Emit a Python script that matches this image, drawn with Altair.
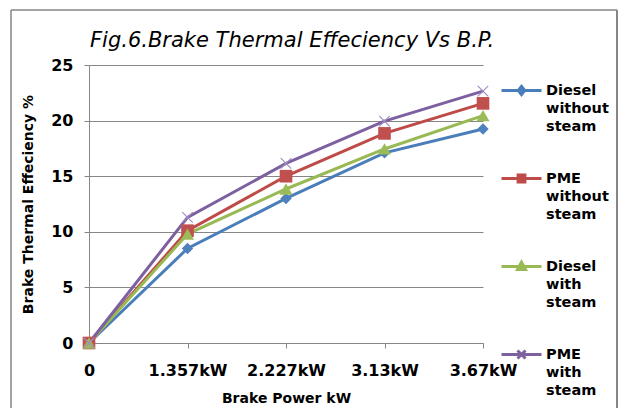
import altair as alt
import pandas as pd

bp_labels = ["0", "1.357kW", "2.227kW", "3.13kW", "3.67kW"]
series_names = ["Diesel without steam", "PME without steam", "Diesel with steam", "PME with steam"]
diesel_without = [0, 8.5, 13.0, 17.1, 19.25]
pme_without = [0, 10.1, 15.0, 18.85, 21.55]
diesel_with = [0, 9.8, 13.85, 17.45, 20.45]
pme_with = [0, 11.3, 16.15, 19.95, 22.65]

line_colors = ["#4A7EBB", "#BE4B48", "#98B954", "#7D60A0"]
marker_colors = ["#4F81BD", "#C0504D", "#9BBB59", "#A18DC0"]
marker_shapes = ["diamond", "square", "triangle-up", "M-1,-1L1,1M-1,1L1,-1"]
marker_sizes = [130, 160, 170, 110]
legend_paths = [
    "M-1,0H1M-0.16,0L0,-0.2L0.16,0L0,0.2ZM-0.07,0L0,-0.09L0.07,0L0,0.09Z",
    "M-1,0H1M-0.17,-0.17H0.17V0.17H-0.17ZM-0.08,-0.08H0.08V0.08H-0.08Z",
    "M-1,0H1M-0.2,0.15L0,-0.22L0.2,0.15ZM-0.08,0.08L0,-0.06L0.08,0.08Z",
    "M-1,0H1M-0.2,-0.2L0.2,0.2M-0.2,0.2L0.2,-0.2",
]

rows = []
for name, vals in zip(series_names, [diesel_without, pme_without, diesel_with, pme_with]):
    for lab, v in zip(bp_labels, vals):
        rows.append({"bp": lab, "series": name, "eff": v})
df = pd.DataFrame(rows)

FONT = "DejaVu Sans"
GRAY = "#868686"

x_enc = alt.X("bp:N", sort=bp_labels, scale=alt.Scale(type="point", padding=0),
              axis=alt.Axis(title="Brake Power kW", labelAngle=0, labelPadding=14,
                            titlePadding=13, tickSize=5, labelFontSize=16,
                            titleFontSize=14))
y_enc = alt.Y("eff:Q", scale=alt.Scale(domain=[0, 25]),
              axis=alt.Axis(title="Brake Thermal Effeciency %", values=[0, 5, 10, 15, 20, 25],
                            labelPadding=11, titlePadding=15, tickSize=5, grid=True,
                            labelFontSize=16, titleFontSize=14))

base = alt.Chart(df)

series_layers = []
for name, lc in zip(series_names, line_colors):
    sub = base.transform_filter(alt.datum.series == name)
    series_layers.append(sub.mark_line(strokeWidth=3, color=lc).encode(x=x_enc, y=y_enc))
for name, shp, col, sz in zip(series_names, marker_shapes, marker_colors, marker_sizes):
    sub = base.transform_filter(alt.datum.series == name)
    if shp.startswith("M"):
        m = sub.mark_point(shape=shp, filled=False, size=sz, stroke=col, strokeWidth=1.2, opacity=1)
    else:
        m = sub.mark_point(shape=shp, filled=True, size=sz, fill=col, opacity=1)
    series_layers.append(m.encode(x=x_enc, y=y_enc))

legend_layer = base.mark_point(filled=False, strokeWidth=3, opacity=0).encode(
    x=x_enc, y=y_enc,
    color=alt.Color("series:N", scale=alt.Scale(domain=series_names, range=line_colors),
                    legend=alt.Legend(title=None, orient="none", legendX=411, legendY=4,
                                      direction="vertical", symbolSize=1600, symbolOpacity=1,
                                      symbolStrokeWidth=3, rowPadding=24, padding=0,
                                      labelFont=FONT, labelFontSize=14.5, labelFontWeight="bold",
                                      labelColor="black", labelOffset=3, labelLimit=200,
                                      labelExpr="split(datum.label, ' ')")),
    shape=alt.Shape("series:N", scale=alt.Scale(domain=series_names, range=legend_paths)),
)

frame_data = alt.Data(values=[{"a": 1}])
frame_left = alt.Chart(frame_data).mark_rule(color=GRAY, strokeWidth=1.5).encode(
    x=alt.value(-78), y=alt.value(-55), y2=alt.value(343))
frame_right = alt.Chart(frame_data).mark_rule(color=GRAY, strokeWidth=2).encode(
    x=alt.value(528), y=alt.value(-55), y2=alt.value(343))
frame_top = alt.Chart(frame_data).mark_rule(color=GRAY, strokeWidth=1.5).encode(
    x=alt.value(-78), x2=alt.value(528), y=alt.value(-55))

chart = alt.layer(
    frame_left, frame_right, frame_top, *series_layers, legend_layer
).properties(
    width=394, height=278,
    autosize=alt.AutoSizeParams(type="none"),
    padding={"left": 81, "top": 57, "right": 135, "bottom": 65},
    title=alt.TitleParams("Fig.6.Brake Thermal Effeciency Vs B.P.", anchor="start",
                          frame="group",
                          font=FONT, fontSize=21, fontStyle="italic", fontWeight="normal",
                          color="black", offset=-42, dx=1),
).configure(
    axis=alt.AxisConfig(domainColor=GRAY, tickColor=GRAY, gridColor=GRAY, gridWidth=1,
                        labelFont=FONT, labelFontWeight="bold", labelColor="black",
                        titleFont=FONT, titleFontWeight="bold", titleColor="black"),
    axisX=alt.AxisConfig(grid=False),
    view=alt.ViewConfig(stroke=None),
    style={"guide-label": {"lineHeight": 18}},
)

chart.save("out.html", embed_options={"renderer": "svg", "actions": False})
